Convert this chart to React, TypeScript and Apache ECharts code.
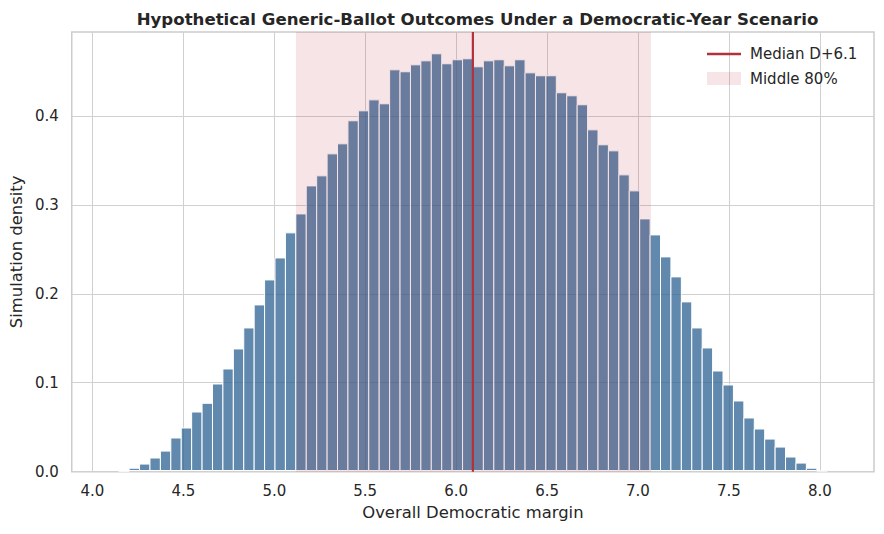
import React, { useEffect, useRef } from "react";
import * as echarts from "echarts";

// Histogram bins (simulated overall Democratic margin)
const BIN_START = 4.087;
const BIN_WIDTH = 0.0573;
const DENSITY = [
  0, 0.0008, 0.0039, 0.0086, 0.0154, 0.0232, 0.0379, 0.0491, 0.0671, 0.0769,
  0.0986, 0.1155, 0.138, 0.1616, 0.1875, 0.2156, 0.2403, 0.2685, 0.2898, 0.3213,
  0.3326, 0.3573, 0.3686, 0.3945, 0.4057, 0.418, 0.4136, 0.4518, 0.4496, 0.4574,
  0.4619, 0.4698, 0.4586, 0.4631, 0.4642, 0.4552, 0.4619, 0.4631, 0.4563, 0.4631,
  0.4484, 0.4451, 0.4451, 0.426, 0.4226, 0.4125, 0.3843, 0.3675, 0.3607, 0.3337,
  0.3157, 0.2842, 0.2662, 0.2415, 0.219, 0.1909, 0.1616, 0.1391, 0.1132, 0.0975,
  0.0795, 0.0604, 0.048, 0.0367, 0.0277, 0.0165, 0.0097, 0.0039, 0.001, 0,
];
const MEDIAN = 6.092;
const P10 = 5.119;
const P90 = 7.071;
const X_TICKS = [4.0, 4.5, 5.0, 5.5, 6.0, 6.5, 7.0, 7.5, 8.0];
const Y_TICKS = [0.0, 0.1, 0.2, 0.3, 0.4];
const X_MIN = 3.886;
const X_MAX = 8.298;
const Y_MAX = 0.4943;

const TITLE = "Hypothetical Generic-Ballot Outcomes Under a Democratic-Year Scenario";
const MEDIAN_NAME = "Median D+6.1";
const SPAN_NAME = "Middle 80%";

const FONT = "'DejaVu Sans', sans-serif";
const TEXT = "#262626";
const GRID = "#d0d0d0";
const RED = "#b3303f";

export default function App() {
  const ref = useRef<HTMLDivElement>(null);
  useEffect(() => {
    if (!ref.current) return;
    const chart = echarts.init(ref.current, null, { renderer: "svg" });
    const bins = DENSITY.map((d, i) => [BIN_START + i * BIN_WIDTH, BIN_START + (i + 1) * BIN_WIDTH, d]);
    chart.setOption({
      animation: false,
      backgroundColor: "#ffffff",
      textStyle: { fontFamily: FONT },
      title: {
        text: TITLE,
        left: 472.5,
        textAlign: "center",
        top: 6,
        textStyle: { fontFamily: FONT, fontWeight: "bold", fontSize: 16.6, color: TEXT },
      },
      legend: {
        orient: "vertical",
        left: 707,
        top: 46.5,
        padding: 0,
        itemWidth: 34,
        itemHeight: 13,
        itemGap: 9.5,
        textStyle: { fontFamily: FONT, fontSize: 15, color: TEXT, padding: [0, 0, 0, 4] },
        data: [
          { name: MEDIAN_NAME, icon: "path://M0,0M34,13M0,5.3H34V7.7H0Z", itemStyle: { color: RED } },
          { name: SPAN_NAME, icon: "rect", itemStyle: { color: "rgba(178,34,52,0.12)" } },
        ],
      },
      grid: {
        left: 71,
        right: 10,
        top: 32,
        bottom: 62.3,
        show: true,
        borderColor: "#cccccc",
        borderWidth: 1.5,
        containLabel: false,
      },
      xAxis: {
        type: "value",
        min: X_MIN,
        max: X_MAX,
        name: "Overall Democratic margin",
        nameLocation: "middle",
        nameGap: 33,
        nameTextStyle: { fontFamily: FONT, fontSize: 16.4, color: TEXT },
        axisLine: { show: false },
        axisTick: { show: false, customValues: X_TICKS },
        axisLabel: {
          customValues: X_TICKS,
          formatter: (v: number) => v.toFixed(1),
          fontFamily: FONT,
          fontSize: 15,
          color: TEXT,
          margin: 12,
        },
        splitLine: { show: true, lineStyle: { color: GRID, width: 1 } },
      },
      yAxis: {
        type: "value",
        min: 0,
        max: Y_MAX,
        name: "Simulation density",
        nameLocation: "middle",
        nameGap: 45,
        nameTextStyle: { fontFamily: FONT, fontSize: 16.4, color: TEXT },
        axisLine: { show: false },
        axisTick: { show: false, customValues: Y_TICKS },
        axisLabel: {
          customValues: Y_TICKS,
          formatter: (v: number) => v.toFixed(1),
          fontFamily: FONT,
          fontSize: 15,
          color: TEXT,
          margin: 13,
        },
        splitLine: { show: true, lineStyle: { color: GRID, width: 1 } },
      },
      series: [
        {
          type: "custom",
          name: "Histogram",
          z: 2,
          data: bins,
          encode: { x: [0, 1], y: 2 },
          renderItem: (params: any, api: any) => {
            if (!(api.value(2) > 0)) return null;
            const p0 = api.coord([api.value(0), api.value(2)]);
            const p1 = api.coord([api.value(1), 0]);
            const bottom = p1[1] - 1.2;
            return {
              type: "rect",
              shape: { x: p0[0], y: p0[1], width: p1[0] - p0[0], height: Math.max(0.3, bottom - p0[1]) },
              style: { fill: "rgba(43,98,146,0.75)", stroke: "#ffffff", lineWidth: 1 },
            };
          },
        },
        {
          type: "custom",
          name: SPAN_NAME,
          z: 3,
          data: [[P10, P90]],
          encode: { x: [0, 1] },
          renderItem: (params: any, api: any) => {
            const cs = params.coordSys;
            const a = api.coord([api.value(0), 0]);
            const b = api.coord([api.value(1), 0]);
            return {
              type: "rect",
              shape: { x: a[0], y: cs.y, width: b[0] - a[0], height: cs.height },
              style: { fill: "rgba(178,34,52,0.12)" },
            };
          },
        },
        {
          type: "line",
          name: MEDIAN_NAME,
          z: 4,
          data: [
            [MEDIAN, 0],
            [MEDIAN, Y_MAX],
          ],
          symbol: "none",
          lineStyle: { color: RED, width: 2.2 },
          itemStyle: { color: RED },
        },
      ],
    });
    return () => chart.dispose();
  }, []);
  return (
    <div
      ref={ref}
      style={{ position: "fixed", left: 0, top: 0, width: 884, height: 534 }}
    />
  );
}
